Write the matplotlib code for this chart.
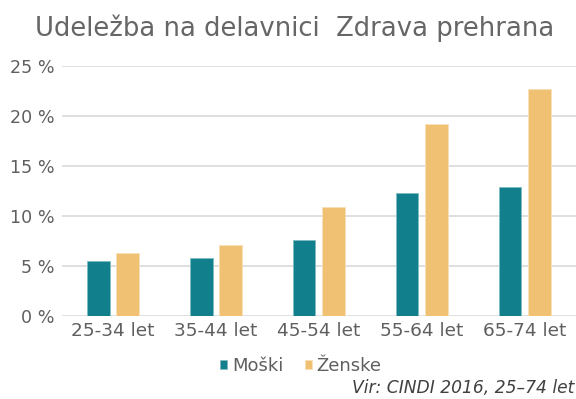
import numpy as np
import matplotlib.pyplot as plt

plt.rcParams['font.family'] = ['DejaVu Sans']

skupine = ['25-34 let', '35-44 let', '45-54 let', '55-64 let', '65-74 let']
moski = [5.5, 5.8, 7.6, 12.3, 12.9]
zenske = [6.3, 7.1, 10.9, 19.2, 22.7]

barva_m = '#11808C'
barva_z = '#F0C173'
siva = '#5f5f5f'

fig = plt.figure(figsize=(5.76, 3.99), dpi=100)
ax = fig.add_axes([0.107, 0.208, 0.893, 0.627])

x = np.arange(len(skupine))
w = 0.22
ax.bar(x - 0.143, moski, w, color=barva_m, edgecolor='#7fbcc2', linewidth=0.6, label='Moški', zorder=3)
ax.bar(x + 0.143, zenske, w, color=barva_z, edgecolor='#f8e0b8', linewidth=0.6, label='Ženske', zorder=3)

ax.set_xlim(-0.5, len(skupine) - 0.5)
ax.set_ylim(0, 25)
ax.set_yticks(np.arange(0, 26, 5))
ax.set_yticklabels([f'{v} %' for v in range(0, 26, 5)])
ax.set_xticks(x)
ax.set_xticklabels(skupine)
ax.grid(axis='y', color='#D9D9D9', linewidth=1.2, zorder=0)
for s in ax.spines.values():
    s.set_visible(False)
ax.tick_params(axis='x', length=0, labelsize=13.3, colors=siva, pad=4)
ax.tick_params(axis='y', length=0, labelsize=12.6, colors=siva, pad=5)

fig.text(0.512, 0.93, 'Udeležba na delavnici  Zdrava prehrana', ha='center', va='center',
         fontsize=18.6, color='#666666')

ax.legend(loc='center', bbox_to_anchor=(0.5 - 0.035, -0.2), ncol=2, frameon=False,
          fontsize=13, labelcolor=siva, handlelength=0.4, handleheight=0.4,
          handletextpad=0.25, columnspacing=1.2)

fig.text(0.998, 0.028, 'Vir: CINDI 2016, 25–74 let', ha='right', va='center',
         fontsize=12.3, style='italic', color='#404040')

fig.savefig('out.png', dpi=100)
